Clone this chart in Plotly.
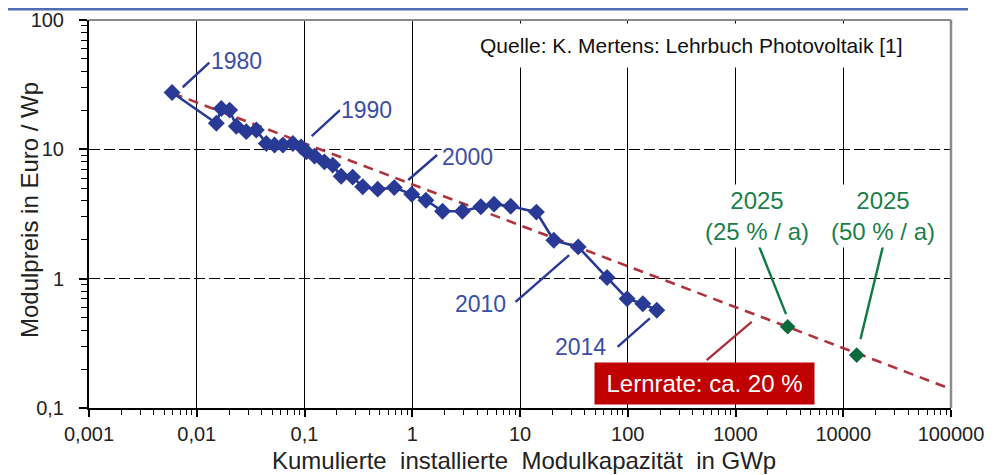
import math
import plotly.graph_objects as go

# ---------------- data ----------------
years = list(range(1980, 2015))
capacity_gwp = [0.0059, 0.0152, 0.0169, 0.0202, 0.0233, 0.0288, 0.0357, 0.0442, 0.0527, 0.063,
                0.078, 0.093, 0.104, 0.124, 0.153, 0.183, 0.219, 0.28, 0.347, 0.478,
                0.681, 0.99, 1.34, 1.91, 2.92, 4.33, 5.74, 8.2, 14.2, 20.6,
                34.7, 64.3, 98.6, 138, 186]
price_eur_wp = [27.5, 15.9, 20.7, 20.1, 15.1, 13.7, 14.1, 11.1, 10.8, 10.8,
                11.1, 10.45, 9.57, 8.86, 8.0, 7.55, 6.2, 6.1, 5.13, 4.92,
                5.06, 4.5, 4.04, 3.32, 3.32, 3.6, 3.77, 3.63, 3.27, 1.98,
                1.76, 1.02, 0.70, 0.64, 0.57]

proj_labels = ["2025<br>(25 % / a)", "2025<br>(50 % / a)"]
proj_capacity = [3050, 13330]
proj_price = [0.425, 0.2565]

trend_capacity = [0.006, 90000]
trend_price = [27.1, 0.145]

x_tickvals = [0.001, 0.01, 0.1, 1, 10, 100, 1000, 10000, 100000]
x_ticktext = ["0,001", "0,01", "0,1", "1", "10", "100", "1000", "10000", "100000"]
y_tickvals = [0.1, 1, 10, 100]
y_ticktext = ["0,1", "1", "10", "100"]

x_title = "Kumulierte \u00a0installierte \u00a0Modulkapazität \u00a0in GWp"
y_title = "Modulpreis in Euro / Wp"
source_text = "Quelle: K. Mertens: Lehrbuch Photovoltaik [1]"
rate_text = "Lernrate: ca. 20 %"

# ---------------- styling ----------------
FONT = "Liberation Sans, Arial, sans-serif"
BLUE = "#283996"
BLUE_TXT = "#3a4ea6"
GREEN = "#0c6b3c"
GREEN_TXT = "#1b7f4c"
RED = "#b0323b"

# plot area geometry (page pixels); the page body adds an 8 px offset
OFF = 8
PL, PR, PT, PB = 89, 951, 20, 408
PW, PH = PR - PL, PB - PT


def px(xp):
    return (xp - PL) / PW


def py(yp):
    return (PB - yp) / PH


x_minor = [k * 10.0 ** e for e in range(-3, 5) for k in range(2, 10)]
y_minor = [k * 10.0 ** e for e in range(-1, 2) for k in range(2, 10)]

fig = go.Figure()

fig.add_trace(go.Scatter(
    x=trend_capacity, y=trend_price, mode="lines",
    line=dict(color=RED, width=2.6, dash="10px,7px"),
    showlegend=False, hoverinfo="skip"))

fig.add_trace(go.Scatter(
    x=capacity_gwp, y=price_eur_wp, mode="lines+markers", text=years,
    line=dict(color=BLUE, width=2.6),
    marker=dict(symbol="diamond", size=13, color=BLUE),
    showlegend=False))

fig.add_trace(go.Scatter(
    x=proj_capacity, y=proj_price, mode="markers", text=proj_labels,
    marker=dict(symbol="diamond", size=12, color=GREEN),
    showlegend=False))

# leader lines (data coordinates)
leaders = [
    ((0.00741, 30.2), (0.01308, 46.8), BLUE),
    ((0.1166, 12.67), (0.2136, 20.1), BLUE),
    ((0.918, 5.79), (1.70, 9.04), BLUE),
    ((9.1, 0.662), (28.6, 1.522), BLUE),
    ((80.5, 0.297), (160.3, 0.493), BLUE),
    ((1652, 1.787), (2943, 0.532), "#137a45"),
    ((23390, 1.787), (14450, 0.341), "#137a45"),
    ((540, 0.2347), (1413, 0.464), "#a8303a"),
]
shapes = []
for (a, b, c) in leaders:
    shapes.append(dict(type="line", xref="x", yref="y", x0=a[0], y0=a[1], x1=b[0], y1=b[1],
                       line=dict(color=c, width=2.4), layer="above"))

# frame: grey top/right, blue header line
shapes.append(dict(type="line", xref="x domain", yref="y domain", x0=0, x1=1, y0=1, y1=1,
                   line=dict(color="#8a8a8a", width=2)))
shapes.append(dict(type="line", xref="x domain", yref="y domain", x0=1, x1=1, y0=0, y1=1,
                   line=dict(color="#8a8a8a", width=2.5)))
shapes.append(dict(type="line", xref="paper", yref="paper", x0=px(0), x1=px(968),
                   y0=py(9.2), y1=py(9.2), line=dict(color="#4f6db5", width=2.5)))

ann = []
blue_labels = [("1980", 0.0235, 48.3), ("1990", 0.380, 20.1), ("2000", 3.29, 8.71),
               ("2010", 4.26, 0.637), ("2014", 36.8, 0.296)]
for t, xv, yv in blue_labels:
    ann.append(dict(text=t, x=math.log10(xv), y=math.log10(yv), xref="x", yref="y",
                    xanchor="center", yanchor="middle",
                    showarrow=False, font=dict(family=FONT, size=23, color=BLUE_TXT),
                    bgcolor="white", borderpad=0))

for t, xv in zip(proj_labels, [1585, 23390]):
    ann.append(dict(text=t, x=math.log10(xv), y=math.log10(3.05), xref="x", yref="y",
                    xanchor="center", yanchor="middle",
                    showarrow=False, font=dict(family=FONT, size=24, color=GREEN_TXT),
                    bgcolor="white", borderpad=2))

ann.append(dict(text=source_text, x=px(691), y=py(45), xref="paper", yref="paper",
                xanchor="center", yanchor="middle",
                showarrow=False, font=dict(family=FONT, size=21, color="#111111"),
                bgcolor="white", borderpad=10))

ann.append(dict(text=rate_text, x=math.log10(511), y=math.log10(0.156), xref="x", yref="y",
                xanchor="center", yanchor="middle",
                showarrow=False, font=dict(family=FONT, size=24, color="white"),
                bgcolor="#c00000", borderpad=6, width=207, height=29))

ann.append(dict(text=x_title, x=px(524), y=py(460), xref="paper", yref="paper",
                xanchor="center", yanchor="middle",
                showarrow=False, font=dict(family=FONT, size=24, color="#222222")))
ann.append(dict(text=y_title, x=px(29), y=py(210), xref="paper", yref="paper",
                xanchor="center", yanchor="middle",
                showarrow=False, textangle=-90, font=dict(family=FONT, size=24, color="#222222")))

fig.update_layout(
    width=996 - OFF, height=475 - OFF,
    margin=dict(l=PL - OFF, r=996 - PR, t=PT - OFF, b=475 - PB),
    paper_bgcolor="white", plot_bgcolor="white",
    font=dict(family=FONT, size=20, color="#222222"),
    shapes=shapes, annotations=ann,
    showlegend=False,
)

fig.update_xaxes(
    type="log", range=[-3, 5],
    tickvals=x_tickvals, ticktext=x_ticktext,
    tickfont=dict(family=FONT, size=20, color="#222222"),
    showgrid=True, gridcolor="black", gridwidth=1.3,
    ticks="outside", ticklen=7, tickwidth=1.6, tickcolor="black",
    showline=True, linecolor="black", linewidth=2,
    ticklabelstandoff=0,
    minor=dict(tickvals=x_minor, ticks="outside", ticklen=5, tickwidth=1.2,
               tickcolor="black", showgrid=False),
    zeroline=False, automargin=False,
)
fig.update_yaxes(
    type="log", range=[-1, 2],
    tickvals=y_tickvals, ticktext=y_ticktext,
    tickfont=dict(family=FONT, size=20, color="#222222"),
    showgrid=True, gridcolor="black", gridwidth=1.2, griddash="11px,4px",
    ticks="outside", ticklen=8, tickwidth=1.6, tickcolor="black",
    showline=True, linecolor="black", linewidth=2,
    ticklabelstandoff=11,
    minor=dict(tickvals=y_minor, ticks="outside", ticklen=6, tickwidth=1.2,
               tickcolor="black", showgrid=False),
    zeroline=False, automargin=False,
)

fig.write_html("out.html")
